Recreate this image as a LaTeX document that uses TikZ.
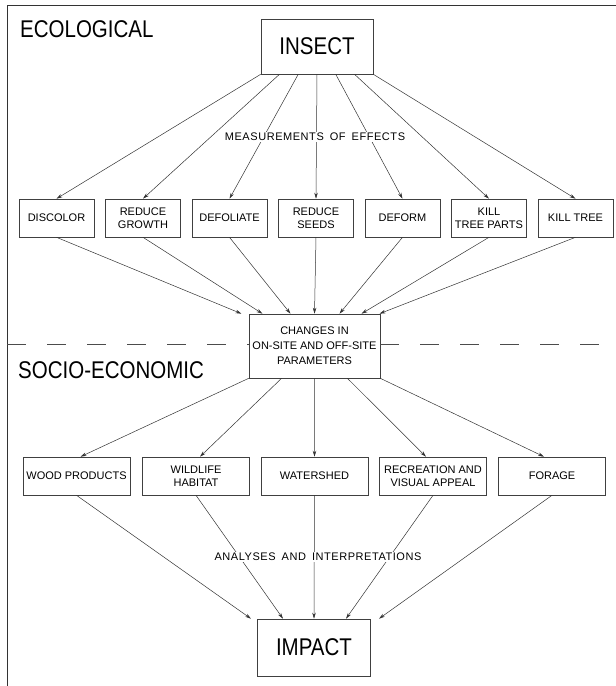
\documentclass[tikz,border=0pt]{standalone}
\usepackage{fontspec}
\setmainfont{Liberation Sans}
\newfontfamily\spacedfont[LetterSpace=5]{Liberation Sans}
\usetikzlibrary{arrows.meta,calc}
\newcommand{\tallcaps}[1]{\scalebox{1}[1.18]{#1}}
\newcommand{\widespaces}{\spaceskip=6pt plus 1pt\relax}

\begin{document}
\begin{tikzpicture}[x=1pt,y=-1pt,
  box/.style={draw=black!75, line width=0.6pt, align=center, inner sep=1pt,
    minimum width=75pt, minimum height=38pt, font=\fontsize{11}{13}\selectfont},
  widebox/.style={box, minimum width=107pt},
  bigbox/.style={draw=black!75, line width=0.6pt, font=\fontsize{20.5}{24}\selectfont},
  lbl/.style={fill=white, inner sep=1pt, font=\spacedfont\fontsize{11}{13}\selectfont\widespaces},
  head/.style={anchor=base west, inner sep=0pt, font=\fontsize{20.5}{24}\selectfont},
  arr/.style={draw=black!80, line width=0.5pt, -{Stealth[length=6pt,width=3.5pt]}}]
\useasboundingbox (0,0) rectangle (616,686);

\coordinate (fb) at (7,686);
\coordinate (ftl) at (7,5);
\coordinate (ftr) at (616,5);
\draw[line width=0.8pt, black!80] (fb) -- (ftl) -- (ftr);

\node[head] (eco) at (20,37) {\tallcaps{ECOLOGICAL}};
\node[head] (soc) at (18,378) {\tallcaps{SOCIO-ECONOMIC}};

\node[bigbox, minimum width=112pt, minimum height=55pt] (ins) at (317,46.5) {\tallcaps{INSECT}};

\node[box] (dis) at (56.5,218) {DISCOLOR};
\node[box] (gro) at (143,218) {REDUCE\\GROWTH};
\node[box] (dfl) at (229.5,218) {DEFOLIATE};
\node[box] (see) at (316,218) {REDUCE\\SEEDS};
\node[box] (dfm) at (402.5,218) {DEFORM};
\node[box] (ktp) at (489,218) {KILL\\TREE PARTS};
\node[box] (ktr) at (575.5,218) {KILL TREE};

\node[box, minimum width=131pt, minimum height=64pt, font=\fontsize{11}{15}\selectfont] (chg) at (314.5,346) {CHANGES IN\\ON-SITE AND OFF-SITE\\PARAMETERS};

\node[widebox] (wod) at (76.5,476) {WOOD PRODUCTS};
\node[widebox] (wil) at (196,476) {WILDLIFE\\HABITAT};
\node[widebox] (wat) at (314.5,476) {WATERSHED};
\node[widebox] (rec) at (433,476) {RECREATION AND\\VISUAL APPEAL};
\node[widebox] (frg) at (552,476) {FORAGE};

\node[bigbox, minimum width=113pt, minimum height=57pt] (imp) at (314,647.5) {\tallcaps{IMPACT}};

\coordinate (dl) at (7,344);
\coordinate (dr) at (616,344);
\draw[black!70, line width=0.6pt, dash pattern=on 19pt off 21pt] (dl) -- (dl -| chg.west);
\draw[black!70, line width=0.6pt, dash pattern=on 19pt off 21pt] (dr -| chg.east) -- (dr);

\foreach \n [count=\i from 0] in {dis,gro,dfl,see,dfm,ktp,ktr}
  \draw[arr] ($(ins.south west)!\i/6!(ins.south east)$) -- (\n.north);
\foreach \n/\s in {dis/-73,gro/-52,dfl/-24,see/0,dfm/25,ktp/47,ktr/65}
  \draw[arr] (\n.south) -- ([xshift=\s pt]chg.north);
\foreach \n/\s [count=\i from 0] in {wod/4,wil/4,wat/0,rec/-7,frg/-8}
  \draw[arr] ($(chg.south west)!\i/4!(chg.south east)$) -- ([xshift=\s pt]\n.north);
\foreach \n/\s in {wod/-63,wil/-31,wat/0,rec/32,frg/65}
  \draw[arr] (\n.south) -- ([xshift=\s pt]imp.north);

\node[lbl] (mea) at (315,137) {MEASUREMENTS OF EFFECTS};
\node[lbl] (ana) at (318,557) {ANALYSES AND INTERPRETATIONS};
\end{tikzpicture}
\end{document}
